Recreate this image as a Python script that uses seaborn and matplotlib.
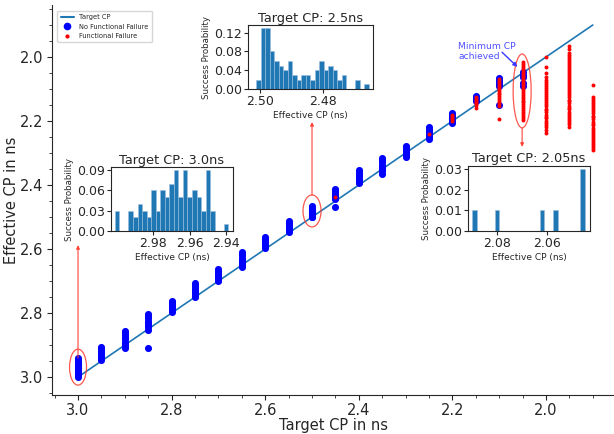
import numpy as np
import pandas as pd
import matplotlib
matplotlib.use("Agg")
import matplotlib.pyplot as plt
import seaborn as sns
from matplotlib.patches import Ellipse
from matplotlib.lines import Line2D
from matplotlib.ticker import MultipleLocator, FormatStrFormatter

# ---------------- data ----------------
target_line = [3.0, 1.9]

# inset histograms (effective CP bin centre, success probability)
cp300_eff = [2.9998, 2.9923, 2.9898, 2.9874, 2.9849, 2.9824, 2.9799, 2.9774, 2.9750,
             2.9725, 2.9700, 2.9675, 2.9650, 2.9626, 2.9601, 2.9576, 2.9551, 2.9526,
             2.9502, 2.9477, 2.9402]
cp300_prob = [0.03, 0.03, 0.02, 0.04, 0.03, 0.02, 0.06, 0.03, 0.06, 0.05, 0.07, 0.09,
              0.05, 0.09, 0.05, 0.06, 0.05, 0.03, 0.09, 0.03, 0.01]

cp250_eff = [2.5006, 2.4991, 2.4977, 2.4963, 2.4948, 2.4934, 2.4920, 2.4905, 2.4891,
             2.4877, 2.4862, 2.4848, 2.4833, 2.4819, 2.4805, 2.4790, 2.4776, 2.4762,
             2.4747, 2.4733, 2.4690, 2.4661]
cp250_prob = [0.02, 0.13, 0.13, 0.08, 0.06, 0.05, 0.04, 0.06, 0.03, 0.02, 0.03, 0.03,
              0.02, 0.04, 0.06, 0.04, 0.05, 0.04, 0.02, 0.03, 0.02, 0.01]

cp205_eff = [2.0891, 2.0800, 2.0620, 2.0564, 2.0455]
cp205_prob = [0.01, 0.01, 0.01, 0.01, 0.03]

# main scatter: effective CP of passing runs (no functional failure)
blue_295 = [2.948, 2.942, 2.936, 2.930, 2.924, 2.918, 2.912, 2.906]
blue_290 = [2.910, 2.903, 2.896, 2.889, 2.882, 2.875, 2.868, 2.861, 2.857]
blue_285 = [2.852, 2.845, 2.838, 2.831, 2.824, 2.817, 2.810, 2.803, 2.908]
blue_280 = [2.796, 2.790, 2.784, 2.778, 2.772, 2.766, 2.761]
blue_275 = [2.749, 2.743, 2.737, 2.731, 2.725, 2.719, 2.712, 2.706]
blue_270 = [2.699, 2.693, 2.687, 2.681, 2.675, 2.668, 2.662]
blue_265 = [2.657, 2.651, 2.645, 2.639, 2.633, 2.627, 2.620, 2.614, 2.609]
blue_260 = [2.598, 2.592, 2.586, 2.580, 2.574, 2.568, 2.562]
blue_255 = [2.548, 2.542, 2.536, 2.530, 2.524, 2.518, 2.512]
blue_245 = [2.445, 2.439, 2.433, 2.427, 2.421, 2.416, 2.411, 2.469]
blue_240 = [2.395, 2.389, 2.383, 2.377, 2.371, 2.365, 2.359, 2.353]
blue_235 = [2.364, 2.357, 2.350, 2.343, 2.336, 2.329, 2.322, 2.315]
blue_230 = [2.311, 2.305, 2.299, 2.293, 2.287, 2.282, 2.277]
blue_225 = [2.255, 2.249, 2.243, 2.237, 2.231, 2.225, 2.218]
blue_220 = [2.205, 2.199, 2.193, 2.187, 2.181, 2.174]
blue_215 = [2.139, 2.133, 2.127, 2.121]
blue_210 = [2.091, 2.085, 2.079, 2.073, 2.067, 2.150]

# main scatter: runs with functional failure
red_245 = [2.4375]
red_225 = [2.241]
red_220 = [2.180, 2.185, 2.190, 2.195, 2.200]
red_215 = [2.125, 2.130, 2.135, 2.140, 2.145, 2.150, 2.160]
red_210 = [2.069, 2.075, 2.081, 2.087, 2.093, 2.099, 2.105, 2.111, 2.117, 2.123,
           2.129, 2.135, 2.141, 2.147, 2.153, 2.194]
red_205 = [2.016, 2.022, 2.028, 2.034, 2.040, 2.046, 2.052, 2.058, 2.064, 2.070,
           2.076, 2.082, 2.088, 2.094, 2.100, 2.106, 2.112, 2.118, 2.124, 2.130,
           2.136, 2.142, 2.148, 2.154, 2.160, 2.166, 2.172, 2.178, 2.184, 2.190, 2.197]
red_200 = [2.001, 2.030, 2.049, 2.062, 2.072, 2.078, 2.085, 2.091, 2.097, 2.104,
           2.110, 2.116, 2.123, 2.129, 2.135, 2.142, 2.148, 2.154, 2.161, 2.167,
           2.173, 2.180, 2.186, 2.192, 2.199, 2.205, 2.211, 2.218, 2.228, 2.238]
red_195 = [1.966, 1.976, 1.986, 1.993, 2.000, 2.006, 2.012, 2.019, 2.025, 2.031,
           2.038, 2.044, 2.050, 2.057, 2.063, 2.069, 2.076, 2.082, 2.088, 2.095,
           2.101, 2.107, 2.114, 2.120, 2.126, 2.133, 2.139, 2.145, 2.152, 2.158,
           2.164, 2.171, 2.177, 2.183, 2.190, 2.196, 2.203, 2.210, 2.218]
red_190 = [2.088, 2.126, 2.132, 2.138, 2.145, 2.151, 2.157, 2.164, 2.170, 2.176,
           2.183, 2.189, 2.195, 2.202, 2.208, 2.214, 2.221, 2.227, 2.233, 2.240,
           2.246, 2.252, 2.259, 2.265, 2.271, 2.278, 2.284, 2.291]

blue_cols = [(3.00, cp300_eff), (2.95, blue_295), (2.90, blue_290), (2.85, blue_285),
             (2.80, blue_280), (2.75, blue_275), (2.70, blue_270), (2.65, blue_265),
             (2.60, blue_260), (2.55, blue_255), (2.50, cp250_eff), (2.45, blue_245),
             (2.40, blue_240), (2.35, blue_235), (2.30, blue_230), (2.25, blue_225),
             (2.20, blue_220), (2.15, blue_215), (2.10, blue_210), (2.05, cp205_eff)]
red_cols = [(2.45, red_245), (2.25, red_225), (2.20, red_220), (2.15, red_215),
            (2.10, red_210), (2.05, red_205), (2.00, red_200), (1.95, red_195),
            (1.90, red_190)]

df_blue = pd.DataFrame([(t, v) for t, vals in blue_cols for v in vals],
                       columns=["target", "effective"])
df_red = pd.DataFrame([(t, v) for t, vals in red_cols for v in vals],
                      columns=["target", "effective"])

# ---------------- plot ----------------
sns.set_style("ticks")
plt.rcParams["font.family"] = ["DejaVu Sans"]

fig = plt.figure(figsize=(6.14, 4.34), dpi=100)
ax = fig.add_axes([0.0847, 0.0899, 0.9153, 0.8986])

line_col = "#1f77b4"
sns.lineplot(x=target_line, y=target_line, ax=ax, color=line_col, lw=1.2, zorder=2)
sns.scatterplot(data=df_blue, x="target", y="effective", ax=ax, color="blue",
                s=26, linewidth=0, zorder=3)
sns.scatterplot(data=df_red, x="target", y="effective", ax=ax, color="red",
                s=8, linewidth=0, zorder=4)

ax.set_xlim(3.0556, 1.8547)
ax.set_ylim(3.056, 1.8375)
ax.xaxis.set_major_locator(MultipleLocator(0.2))
ax.yaxis.set_major_locator(MultipleLocator(0.2))
ax.xaxis.set_minor_locator(MultipleLocator(0.05))
ax.yaxis.set_minor_locator(MultipleLocator(0.05))
ax.xaxis.set_major_formatter(FormatStrFormatter("%.1f"))
ax.yaxis.set_major_formatter(FormatStrFormatter("%.1f"))
ax.tick_params(axis="both", which="major", labelsize=10.5, length=3.5, pad=2.5)
ax.tick_params(axis="both", which="minor", length=2)
ax.set_xlabel("Target CP in ns", fontsize=10.5, labelpad=0)
ax.set_ylabel("Effective CP in ns", fontsize=10.5, labelpad=1)
sns.despine(ax=ax)

handles = [
    Line2D([0], [0], color=line_col, lw=1.5, label="Target CP"),
    Line2D([0], [0], marker="o", color="blue", ls="none", markersize=4.5,
           label="No Functional Failure"),
    Line2D([0], [0], marker="o", color="red", ls="none", markersize=2,
           label="Functional Failure"),
]
ax.legend(handles=handles, loc="upper left", bbox_to_anchor=(0.088, 0.982),
          bbox_transform=fig.transFigure, fontsize=4.8, frameon=True,
          borderpad=0.5, labelspacing=0.5)

# annotations
ann_col = "#ff3b2f"
for (cx, cy, w, h) in [(3.0, 2.969, 0.0363, 0.1125), (2.5, 2.481, 0.0385, 0.100),
                       (2.051, 2.106, 0.0385, 0.231)]:
    ax.add_patch(Ellipse((cx, cy), w, h, fill=False, ec=ann_col, lw=0.9,
                         alpha=0.85, zorder=5))

for (x0, y0, y1) in [(3.0, 2.94, 2.5875), (2.5, 2.431, 2.203), (2.051, 2.222, 2.281)]:
    ax.annotate("", xy=(x0, y1), xytext=(x0, y0),
                arrowprops=dict(arrowstyle="-|>", color=ann_col, lw=0.9,
                                mutation_scale=5, shrinkA=0, shrinkB=0, alpha=0.85),
                zorder=5, annotation_clip=False)

ax.text(2.187, 1.982, "Minimum CP\nachieved", color="#5050ff", fontsize=6.6,
        ha="left", va="center", linespacing=1.15, zorder=6)
ax.annotate("", xy=(2.061, 2.031), xytext=(2.094, 1.985),
            arrowprops=dict(arrowstyle="-|>", color="#3a3aff", lw=1.0,
                            mutation_scale=6, shrinkA=0, shrinkB=0),
            zorder=6)


def draw_inset(rect, eff, prob, lo, hi, xlim, xticks, yticks, title):
    iax = fig.add_axes(rect)
    hist_df = pd.DataFrame({"eff": eff, "prob": prob})
    edges = list(np.linspace(lo, hi, 26))
    sns.histplot(data=hist_df, x="eff", weights="prob", bins=edges, ax=iax,
                 color=line_col, alpha=1.0, edgecolor="#9cbfe0", linewidth=0.4)
    iax.set_xlim(*xlim)
    iax.set_xticks(xticks)
    iax.set_yticks(yticks)
    iax.xaxis.set_major_formatter(FormatStrFormatter("%.2f"))
    iax.yaxis.set_major_formatter(FormatStrFormatter("%.2f"))
    iax.tick_params(axis="both", labelsize=9, length=3, pad=1.5)
    iax.set_title(title, fontsize=9.3, pad=2.5)
    iax.set_xlabel("Effective CP (ns)", fontsize=6.5, labelpad=2)
    iax.set_ylabel("Success Probability", fontsize=6.2, labelpad=2)
    for s in iax.spines.values():
        s.set_visible(True)
        s.set_linewidth(0.8)
    return iax


draw_inset([0.1808, 0.4677, 0.1987, 0.1475], cp300_eff, cp300_prob, 2.939, 3.001,
           (3.0031, 2.9364), [2.98, 2.96, 2.94], [0, 0.03, 0.06, 0.09],
           "Target CP: 3.0ns")
draw_inset([0.4039, 0.7949, 0.2036, 0.1475], cp250_eff, cp250_prob, 2.4654, 2.5013,
           (2.5039, 2.4640), [2.50, 2.48], [0, 0.04, 0.08, 0.12],
           "Target CP: 2.5ns")
draw_inset([0.7622, 0.4677, 0.1987, 0.1500], cp205_eff, cp205_prob, 2.0446, 2.0900,
           (2.0918, 2.0424), [2.08, 2.06], [0, 0.01, 0.02, 0.03],
           "Target CP: 2.05ns")

fig.savefig("out.png", dpi=100)
